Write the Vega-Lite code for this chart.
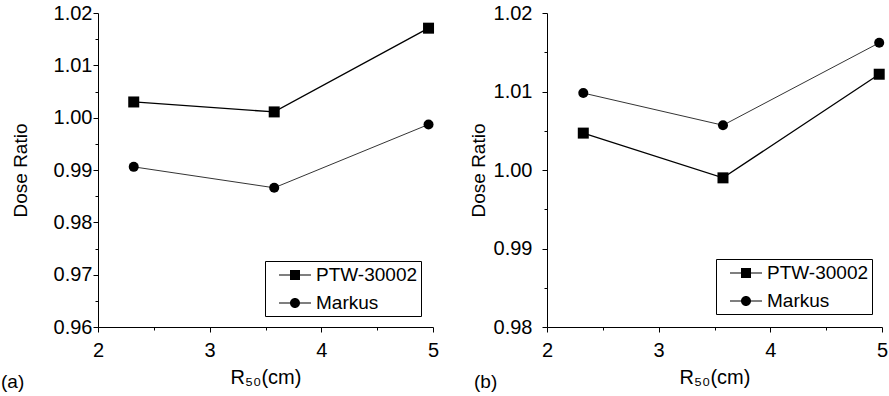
{
  "$schema": "https://vega.github.io/schema/vega-lite/v6.json",
  "autosize": {"type": "pad"},
  "padding": {"left": 1, "top": 3, "right": 0, "bottom": 0},
  "background": "white",
  "bounds": "flush",
  "spacing": 114,
  "config": {
    "font": "Liberation Sans",
    "view": {"stroke": null},
    "axis": {
      "domainColor": "black", "domainWidth": 1, "tickColor": "black", "tickWidth": 1,
      "labelColor": "black", "titleColor": "black", "labelFont": "Liberation Sans", "titleFont": "Liberation Sans",
      "labelFontSize": 20, "titleFontSize": 19, "titleFontWeight": "normal", "grid": false,
      "labelOverlap": false, "labelFlush": false, "labelBound": false
    },
    "legend": {"labelFont": "Liberation Sans", "labelColor": "black"},
    "title": {"font": "Liberation Sans", "fontWeight": "normal", "fontSize": 19, "color": "black"}
  },
  "datasets": {
    "a": [
      {"series": "PTW-30002", "r50": 2.32, "ratio": 1.0030},
      {"series": "PTW-30002", "r50": 3.578, "ratio": 1.0011},
      {"series": "PTW-30002", "r50": 4.96, "ratio": 1.0171},
      {"series": "Markus", "r50": 2.32, "ratio": 0.9906},
      {"series": "Markus", "r50": 3.578, "ratio": 0.9866},
      {"series": "Markus", "r50": 4.96, "ratio": 0.9987}
    ],
    "b": [
      {"series": "PTW-30002", "r50": 2.325, "ratio": 1.0047},
      {"series": "PTW-30002", "r50": 3.576, "ratio": 0.9990},
      {"series": "PTW-30002", "r50": 4.975, "ratio": 1.0122},
      {"series": "Markus", "r50": 2.325, "ratio": 1.0098},
      {"series": "Markus", "r50": 3.576, "ratio": 1.0057},
      {"series": "Markus", "r50": 4.975, "ratio": 1.0162}
    ]
  },
  "hconcat": [
    {
      "width": 335, "height": 314,
      "data": {"name": "a"},
      "title": {"text": "(a)", "orient": "bottom", "anchor": "start", "frame": "group", "dx": -97, "dy": -18},
      "encoding": {
        "x": {"field": "r50", "type": "quantitative", "scale": {"domain": [2, 5], "nice": false, "zero": false},
          "axis": {"values": [2, 2.5, 3, 3.5, 4, 4.5, 5], "title": "R₅₀(cm)", "titleFontSize": 20, "titleBaseline": "alphabetic", "titleY": 56,
            "labelExpr": "datum.value % 1 === 0 ? format(datum.value, 'd') : ''", "labelPadding": 8,
            "tickSize": {"condition": {"test": "datum.value % 1 === 0", "value": 5}, "value": 3}}},
        "y": {"field": "ratio", "type": "quantitative", "scale": {"domain": [0.96, 1.02], "nice": false, "zero": false},
          "axis": {"values": [0.96, 0.965, 0.97, 0.975, 0.98, 0.985, 0.99, 0.995, 1.0, 1.005, 1.01, 1.015, 1.02],
            "title": "Dose Ratio", "titleX": -72, "titleBaseline": "alphabetic", "labelPadding": 1,
            "labelExpr": "abs(datum.value*100 - round(datum.value*100)) < 0.01 ? format(datum.value, '.2f') : ''",
            "tickSize": {"condition": {"test": "abs(datum.value*100 - round(datum.value*100)) < 0.01", "value": 5}, "value": 3}}}
      },
      "layer": [
        {"mark": {"type": "line", "color": "black"},
          "encoding": {"detail": {"field": "series"},
            "strokeWidth": {"field": "series", "scale": {"domain": ["PTW-30002", "Markus"], "range": [1.3, 0.8]}, "legend": null}}},
        {"mark": {"type": "point", "filled": true, "color": "black", "opacity": 1},
          "encoding": {
            "shape": {"field": "series", "scale": {"domain": ["PTW-30002", "Markus"], "range": ["square", "circle"]}, "legend": null},
            "size": {"field": "series", "scale": {"domain": ["PTW-30002", "Markus"], "range": [121, 100]}, "legend": null}}},
        {"mark": {"type": "point", "filled": true, "color": "black", "opacity": 0},
          "encoding": {
            "shape": {"field": "series", "scale": {"domain": ["PTW-30002", "Markus"],
              "range": ["M-1.6,-0.05H1.6V0.05H-1.6ZM-0.5,-0.5H0.5V0.5H-0.5Z", "M-1.6,-0.05H1.6V0.05H-1.6ZM-0.5,0A0.5,0.5,0,1,1,0.5,0A0.5,0.5,0,1,1,-0.5,0Z"]},
              "legend": {"title": null, "orient": "none", "legendX": 167, "legendY": 248, "strokeColor": "black", "padding": 3,
                "rowPadding": 7, "symbolSize": 400, "symbolOffset": 16, "labelOffset": 10, "labelFontSize": 19,
                "symbolFillColor": "black", "symbolOpacity": 1, "fillColor": "white"}}}}
      ],
      "resolve": {"scale": {"shape": "independent"}}
    },
    {
      "width": 335, "height": 314,
      "data": {"name": "b"},
      "title": {"text": "(b)", "orient": "bottom", "anchor": "start", "frame": "group", "dx": -73, "dy": -18},
      "encoding": {
        "x": {"field": "r50", "type": "quantitative", "scale": {"domain": [2, 5], "nice": false, "zero": false},
          "axis": {"values": [2, 2.5, 3, 3.5, 4, 4.5, 5], "title": "R₅₀(cm)", "titleFontSize": 20, "titleBaseline": "alphabetic", "titleY": 56,
            "labelExpr": "datum.value % 1 === 0 ? format(datum.value, 'd') : ''", "labelPadding": 8,
            "tickSize": {"condition": {"test": "datum.value % 1 === 0", "value": 5}, "value": 3}}},
        "y": {"field": "ratio", "type": "quantitative", "scale": {"domain": [0.98, 1.02], "nice": false, "zero": false},
          "axis": {"values": [0.98, 0.985, 0.99, 0.995, 1.0, 1.005, 1.01, 1.015, 1.02],
            "title": "Dose Ratio", "titleX": -63, "titleBaseline": "alphabetic", "labelPadding": 10,
            "labelExpr": "abs(datum.value*100 - round(datum.value*100)) < 0.01 ? format(datum.value, '.2f') : ''",
            "tickSize": {"condition": {"test": "abs(datum.value*100 - round(datum.value*100)) < 0.01", "value": 5}, "value": 3}}}
      },
      "layer": [
        {"mark": {"type": "line", "color": "black"},
          "encoding": {"detail": {"field": "series"},
            "strokeWidth": {"field": "series", "scale": {"domain": ["PTW-30002", "Markus"], "range": [1.3, 0.8]}, "legend": null}}},
        {"mark": {"type": "point", "filled": true, "color": "black", "opacity": 1},
          "encoding": {
            "shape": {"field": "series", "scale": {"domain": ["PTW-30002", "Markus"], "range": ["square", "circle"]}, "legend": null},
            "size": {"field": "series", "scale": {"domain": ["PTW-30002", "Markus"], "range": [110, 100]}, "legend": null}}},
        {"mark": {"type": "point", "filled": true, "color": "black", "opacity": 0},
          "encoding": {
            "shape": {"field": "series", "scale": {"domain": ["PTW-30002", "Markus"],
              "range": ["M-1.6,-0.05H1.6V0.05H-1.6ZM-0.5,-0.5H0.5V0.5H-0.5Z", "M-1.6,-0.05H1.6V0.05H-1.6ZM-0.5,0A0.5,0.5,0,1,1,0.5,0A0.5,0.5,0,1,1,-0.5,0Z"]},
              "legend": {"title": null, "orient": "none", "legendX": 169, "legendY": 246, "strokeColor": "black", "padding": 3,
                "rowPadding": 7, "symbolSize": 400, "symbolOffset": 16, "labelOffset": 10, "labelFontSize": 19,
                "symbolFillColor": "black", "symbolOpacity": 1, "fillColor": "white"}}}}
      ],
      "resolve": {"scale": {"shape": "independent"}}
    }
  ]
}
